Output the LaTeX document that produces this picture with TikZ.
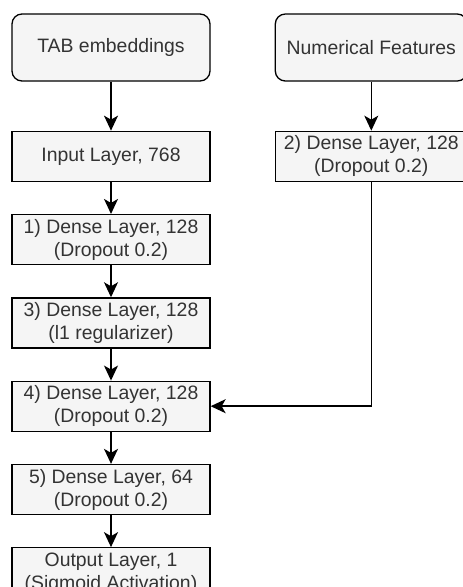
\documentclass[tikz,border=0pt]{standalone}
\usepackage{fontspec}
\setmainfont{Liberation Sans}
\usepackage{xcolor}
\definecolor{capaFondo}{HTML}{F5F5F5}
\definecolor{capaTexto}{HTML}{333333}
\usepackage{tikz}
\usetikzlibrary{arrows.meta, positioning}

\begin{document}
\begin{tikzpicture}[
  node distance=32pt and 64pt,
  capa/.style={rectangle, draw=black, fill=capaFondo, line width=1.3pt,
               text=capaTexto, align=center, inner sep=2pt,
               font=\fontsize{19.4}{23}\selectfont,
               minimum width=198pt, minimum height=50pt},
  entrada/.style={capa, rounded corners=10pt, minimum height=67pt},
  flecha/.style={-{Stealth[length=15pt, width=14pt, inset=4pt]}, line width=1.5pt}
]
\useasboundingbox (0,0) rectangle (463pt,-587pt);

% Entradas
\node[entrada] (tab) at (111pt,-47.5pt) {TAB embeddings};
\node[entrada, minimum width=192pt, right=64pt of tab] (num) {Numerical Features};

% Rama izquierda
\node[capa, below=49pt of tab] (inp) {Input Layer, 768};
\node[capa, below=of inp] (d1) {1) Dense Layer, 128\\(Dropout 0.2)};
\node[capa, below=of d1]  (d3) {3) Dense Layer, 128\\(l1 regularizer)};
\node[capa, below=of d3]  (d4) {4) Dense Layer, 128\\(Dropout 0.2)};
\node[capa, below=of d4]  (d5) {5) Dense Layer, 64\\(Dropout 0.2)};
\node[capa, below=of d5]  (out) {Output Layer, 1\\(Sigmoid Activation)};

% Rama derecha
\node[capa, minimum width=192pt, below=49pt of num] (d2) {2) Dense Layer, 128\\(Dropout 0.2)};

% Flechas
\draw[flecha] (tab) -- (inp);
\draw[flecha] (inp) -- (d1);
\draw[flecha] (d1) -- (d3);
\draw[flecha] (d3) -- (d4);
\draw[flecha] (d4) -- (d5);
\draw[flecha] (d5) -- (out);
\draw[flecha] (num) -- (d2);
\draw[flecha] (d2.south) |- (d4.east);

\end{tikzpicture}
\end{document}
